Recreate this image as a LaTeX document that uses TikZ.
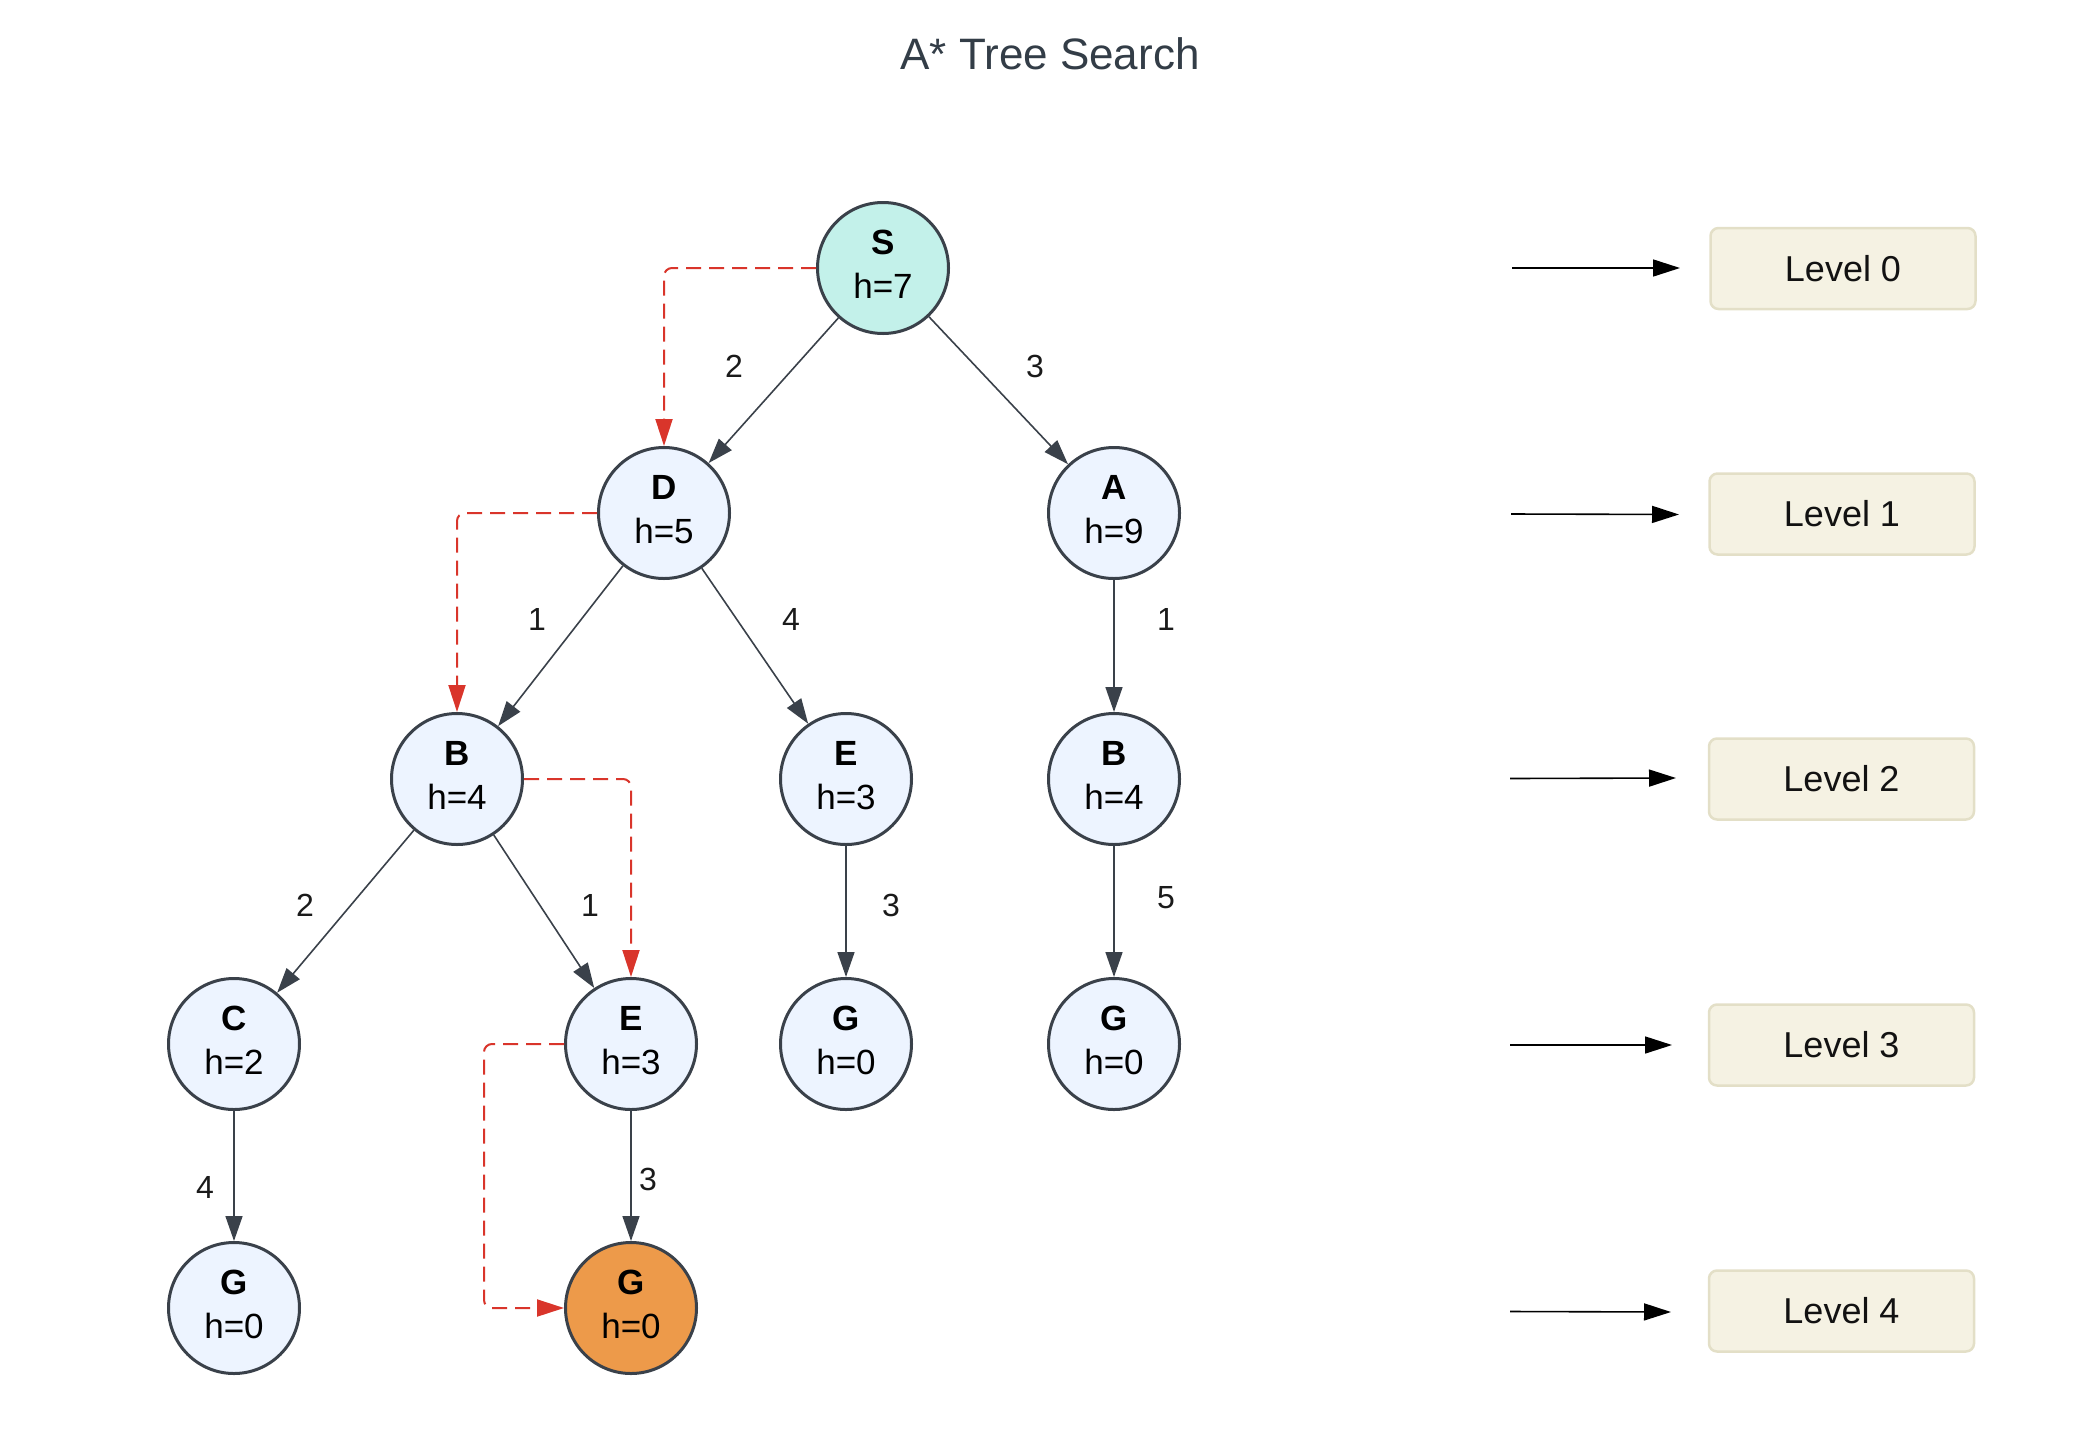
\documentclass[tikz,border=0pt]{standalone}
\usepackage{fontspec}
\setmainfont{Liberation Sans}
\usetikzlibrary{arrows.meta}
\definecolor{nodefill}{HTML}{EDF4FF}
\definecolor{nodedraw}{HTML}{3A414A}
\definecolor{startfill}{HTML}{C3F1EA}
\definecolor{goalfill}{HTML}{ED9A4A}
\definecolor{pathred}{HTML}{D9352B}
\definecolor{levfill}{HTML}{F5F2E3}
\definecolor{levdraw}{HTML}{E3DFC7}
\definecolor{titlecol}{HTML}{333D47}
\definecolor{labelcol}{HTML}{1A1A1A}
\newcommand\nt[2]{\vtop{\baselineskip=44pt\hbox to 0pt{\hss\textbf{#1}\hss}\hbox to 0pt{\hss#2\hss}}}
\begin{document}
\begin{tikzpicture}[x=1pt,y=-1pt,
  treenode/.style={circle, draw=nodedraw, line width=3pt, fill=nodefill,
    minimum size=131pt, inner sep=0pt, text height=24pt, text depth=52pt,
    font=\fontsize{35pt}{44pt}\selectfont},
  edgeline/.style={draw=nodedraw, line width=1.6pt, -{Triangle[length=25pt,width=17pt]}},
  redpath/.style={draw=pathred, line width=2pt, dash pattern=on 15pt off 8pt,
    rounded corners=8pt, -{Triangle[length=27pt,width=17pt]}},
  levarrow/.style={draw=black, line width=1.6pt, -{Triangle[length=27pt,width=17pt]}},
  levbox/.style={draw=levdraw, fill=levfill, line width=2.5pt, rounded corners=8pt,
    minimum width=265pt, minimum height=81pt, inner sep=0pt, text=black!93,
    font=\fontsize{36pt}{44pt}\selectfont},
  elabel/.style={font=\fontsize{32pt}{36pt}\selectfont, text=labelcol, inner sep=0pt}
]
\useasboundingbox (0,0) rectangle (2094,1438);

% title
\node[anchor=base, text=titlecol, font=\fontsize{44pt}{50pt}\selectfont] (title) at (1050,69) {A* Tree Search};

% tree nodes
\node[treenode, fill=startfill] (S) at (883,268) {\nt{S}{h=7}};
\node[treenode] (D) at (664,513) {\nt{D}{h=5}};
\node[treenode] (A) at (1114,513) {\nt{A}{h=9}};
\node[treenode] (B) at (457,779) {\nt{B}{h=4}};
\node[treenode] (E) at (846,779) {\nt{E}{h=3}};
\node[treenode] (B2) at (1114,779) {\nt{B}{h=4}};
\node[treenode] (C) at (234,1044) {\nt{C}{h=2}};
\node[treenode] (E2) at (631,1044) {\nt{E}{h=3}};
\node[treenode] (G1) at (846,1044) {\nt{G}{h=0}};
\node[treenode] (G2) at (1114,1044) {\nt{G}{h=0}};
\node[treenode] (G3) at (234,1308) {\nt{G}{h=0}};
\node[treenode, fill=goalfill] (G4) at (631,1308) {\nt{G}{h=0}};

% tree edges
\draw[edgeline] (S) -- (D);
\draw[edgeline] (S) -- (A);
\draw[edgeline] (D) -- (B);
\draw[edgeline] (D) -- (E);
\draw[edgeline] (A) -- (B2);
\draw[edgeline] (B) -- (C);
\draw[edgeline] (B) -- (E2);
\draw[edgeline] (E) -- (G1);
\draw[edgeline] (B2) -- (G2);
\draw[edgeline] (C) -- (G3);
\draw[edgeline] (E2) -- (G4);

% edge labels
\node[elabel] (l1) at (734,366) {2};
\node[elabel] (l2) at (1035,366) {3};
\node[elabel] (l3) at (537,619) {1};
\node[elabel] (l4) at (791,619) {4};
\node[elabel] (l5) at (1166,619) {1};
\node[elabel] (l6) at (305,905) {2};
\node[elabel] (l7) at (590,905) {1};
\node[elabel] (l8) at (891,905) {3};
\node[elabel] (l9) at (1166,898) {5};
\node[elabel] (l10) at (205,1187) {4};
\node[elabel] (l11) at (648,1179) {3};

% search path
\draw[redpath] (S.west) -| (D.north);
\draw[redpath] (D.west) -| (B.north);
\draw[redpath] (B.east) -| (E2.north);
\draw[redpath] (E2.west) -- ++(-80,0) |- (G4.west);

% levels
\node[levbox] (L0) at (1843,268.5) {Level 0};
\node[levbox] (L1) at (1842,514) {Level 1};
\node[levbox] (L2) at (1841.5,779) {Level 2};
\node[levbox] (L3) at (1841.5,1045) {Level 3};
\node[levbox] (L4) at (1841.5,1311) {Level 4};

\coordinate (a0s) at (1512,268);  \coordinate (a0e) at (1680,268);
\coordinate (a1s) at (1511,514);  \coordinate (a1e) at (1679,514.5);
\coordinate (a2s) at (1510,778.5);\coordinate (a2e) at (1676,778);
\coordinate (a3s) at (1510,1045); \coordinate (a3e) at (1672,1045);
\coordinate (a4s) at (1510,1311.5); \coordinate (a4e) at (1671,1312);
\draw[levarrow] (a0s) -- (a0e);
\draw[levarrow] (a1s) -- (a1e);
\draw[levarrow] (a2s) -- (a2e);
\draw[levarrow] (a3s) -- (a3e);
\draw[levarrow] (a4s) -- (a4e);
\end{tikzpicture}
\end{document}
